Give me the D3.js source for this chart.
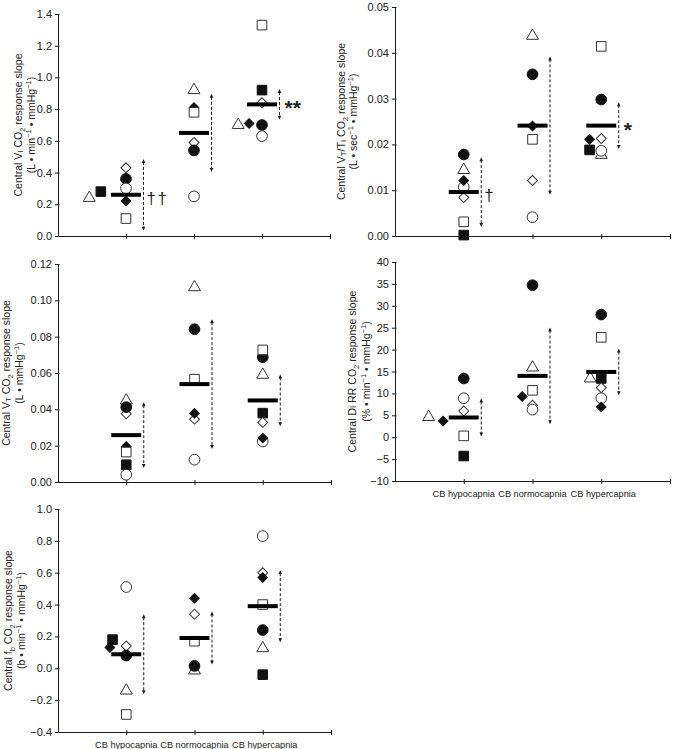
<!DOCTYPE html>
<html><head><meta charset="utf-8">
<script src="https://cdn.jsdelivr.net/npm/d3@7"></script>
<style>
body{margin:0;background:#fff;}
text{font-family:"Liberation Sans",Arial,sans-serif;fill:#222;}
</style></head>
<body>
<svg id="c" width="673" height="749"></svg>
<script>
// ---- data ----
const categories = ["CB hypocapnia", "CB normocapnia", "CB hypercapnia"];
// subject markers (order of values in every array below)
const subjects = ["triangleOpen","squareFilled","diamondOpen","circleFilled","circleOpen","diamondFilled","squareOpen"];

// Panel A: central V̇I CO2 response slope
const viHypo  = [0.24, 0.28, 0.43, 0.36, 0.30, 0.22, 0.11];
const viNormo = [0.92, null, 0.59, 0.54, 0.25, 0.81, 0.78];
const viHyper = [0.70, 0.92, 0.84, 0.70, 0.63, 0.71, 1.33];
const viMean = [0.26, 0.65, 0.83];
const viSD   = [0.22, 0.24, 0.09];
const viTicks = [0,0.2,0.4,0.6,0.8,1.0,1.2,1.4];

// Panel B: central VT/TI
const vttiHypo  = [0.0144, 0.0002, 0.0084, 0.0178, 0.0107, 0.0121, 0.0031];
const vttiNormo = [0.0437, null, 0.0121, 0.0353, 0.0041, 0.0240, 0.0211];
const vttiHyper = [0.0177, 0.0188, 0.0213, 0.0298, 0.0186, 0.0211, 0.0414];
const vttiMean = [0.0096, 0.0241, 0.0241];
const vttiSD   = [0.0074, 0.0149, 0.0049];
const vttiTicks = [0,0.01,0.02,0.03,0.04,0.05];

// Panel C: central VT
const vtHypo  = [0.0449, 0.0095, 0.0375, 0.0412, 0.0040, 0.0196, 0.0165];
const vtNormo = [0.1072, null, 0.0346, 0.0841, 0.0123, 0.0379, 0.0566];
const vtHyper = [0.0590, 0.0379, 0.0328, 0.0687, 0.0223, 0.0242, 0.0727];
const vtMean = [0.0258, 0.0539, 0.0449];
const vtSD   = [0.0176, 0.0352, 0.0137];
const vtTicks = [0,0.02,0.04,0.06,0.08,0.10,0.12];

// Panel D: central Di RR
const diHypo  = [4.6, -4.3, 6.0, 13.4, 8.9, 3.7, 0.3];
const diNormo = [15.9, null, 7.3, 34.7, 6.3, 9.3, 10.7];
const diHyper = [13.4, 13.4, 11.3, 28.0, 8.9, 6.9, 22.8];
const diMean = [4.5, 14.0, 14.9];
const diSD   = [4.1, 10.8, 5.1];
const diTicks = [-10,-5,0,5,10,15,20,25,30,35,40];

// Panel E: central fb
const fbHypo  = [-0.14, 0.18, 0.14, 0.08, 0.51, 0.13, -0.29];
const fbNormo = [-0.014, null, 0.34, 0.015, null, 0.44, 0.17];
const fbHyper = [0.126, -0.04, 0.60, 0.24, 0.83, 0.57, 0.40];
const fbMean = [0.088, 0.19, 0.39];
const fbSD   = [0.245, 0.16, 0.22];
const fbTicks = [-0.4,-0.2,0,0.2,0.4,0.6,0.8,1.0];

// horizontal jitter slots (fraction of category spacing) per subject
const z = [0,0,0,0,0,0,0];
const viJitter   = [[-0.54,-0.37,0,0,0,0,0], z, [-0.35,0,0,0,0,-0.19,0]];
const vttiJitter = [z, z, [0,-0.17,0,0,0,-0.17,0]];
const vtJitter   = [z, z, z];
const diJitter   = [[-0.51,0,0,0,0,-0.30,0], [0,0,0,0,0,-0.15,0], [-0.16,0,0,0,0,0,0]];
const fbJitter   = [[0,-0.2,0,0,0,-0.24,0], z, z];

// significance marks [hypo, normo, hyper]
const viSig = ["††", "", "**"];
const vttiSig = ["†", "", "*"];

// ---- drawing ----
const svg = d3.select("#c");
const ink = "#1a1a1a";

const panels = [
  {vals:[viHypo,viNormo,viHyper], jit:viJitter, mean:viMean, sd:viSD, ticks:viTicks, fmt:d3.format(".1f"),
   box:{l:58,r:330,t:14,b:236}, tx:[19,32], sig:viSig, xl:false,
   title:[[["Central V\u0307"],["I","s"],[" CO"],["2","sub"],[" response slope"]],
          [["(L \u2022 min"],["\u22121","sup"],[" \u2022 mmHg"],["\u22121","sup"],[")"]]]},
  {vals:[vttiHypo,vttiNormo,vttiHyper], jit:vttiJitter, mean:vttiMean, sd:vttiSD, ticks:vttiTicks, fmt:d3.format(".2f"),
   box:{l:395,r:670,t:7,b:236}, tx:[342,354], sig:vttiSig, xl:false,
   title:[[["Central V"],["T","s"],["/T"],["I","s"],[" CO"],["2","sub"],[" response slope"]],
          [["(L \u2022 sec"],["\u22121","sup"],[" \u2022 mmHg"],["\u22121","sup"],[")"]]]},
  {vals:[vtHypo,vtNormo,vtHyper], jit:vtJitter, mean:vtMean, sd:vtSD, ticks:vtTicks, fmt:d3.format(".2f"),
   box:{l:58,r:331,t:264,b:482}, tx:[7,20], sig:["","",""], xl:false,
   title:[[["Central V"],["T","s"],[" CO"],["2","sub"],[" response slope"]],
          [["(L \u2022 mmHg"],["\u22121","sup"],[")"]]]},
  {vals:[diHypo,diNormo,diHyper], jit:diJitter, mean:diMean, sd:diSD, ticks:diTicks, fmt:d3.format("d"),
   box:{l:395,r:670,t:262,b:481}, tx:[353,367], sig:["","",""], xl:true,
   title:[[["Central Di RR CO"],["2","sub"],[" response slope"]],
          [["(% \u2022 min"],["\u22121","sup"],[" \u2022 mmHg"],["\u22121","sup"],[")"]]]},
  {vals:[fbHypo,fbNormo,fbHyper], jit:fbJitter, mean:fbMean, sd:fbSD, ticks:fbTicks, fmt:d3.format(".1f"),
   box:{l:58,r:331,t:509,b:732}, tx:[9,22], sig:["","",""], xl:true,
   title:[[["Central f"],["b","sub"],[" CO"],["2","sub"],[" response slope"]],
          [["(b \u2022 min"],["\u22121","sup"],[" \u2022 mmHg"],["\u22121","sup"],[")"]]]}
];

function symPath(type){
  const s = d3.symbol();
  if(type.startsWith("triangle")) return s.type(d3.symbolTriangle).size(62)();
  if(type.startsWith("square")) return s.type(d3.symbolSquare).size(92)();
  if(type.startsWith("circle")) return s.type(d3.symbolCircle).size(90)();
  if(type.startsWith("diamond")) return s.type(d3.symbolSquare).size(type.endsWith("Filled")?46:50)();
}

function addTitle(g, segs){
  const t = g.append("text").attr("text-anchor","middle").attr("font-size",10.5).attr("fill","#111");
  let shift = 0;
  segs.forEach(([str,kind])=>{
    let target = 0, fs = 10.5;
    if(kind==="sub"){target=2.5; fs=7.5;}
    else if(kind==="sup"){target=-4; fs=7.5;}
    else if(kind==="s"){target=1; fs=8;}
    t.append("tspan").attr("dy", target-shift).attr("font-size",fs).text(str);
    shift = target;
  });
  return t;
}

panels.forEach(p=>{
  const b = p.box;
  const x = d3.scaleLinear().domain([0,4]).range([b.l,b.r]);
  const y = d3.scaleLinear().domain([p.ticks[0], p.ticks[p.ticks.length-1]]).range([b.b,b.t]);
  const g = svg.append("g");

  // y axis
  const ya = g.append("g").attr("transform",`translate(${b.l},0)`)
    .call(d3.axisLeft(y).tickValues(p.ticks).tickFormat(p.fmt).tickSize(3).tickPadding(3));
  ya.select(".domain").attr("stroke",ink).attr("d",`M0.5,${b.b}V${b.t}`);
  ya.selectAll(".tick line").attr("stroke",ink).attr("x1",1.5);
  ya.selectAll(".tick text").attr("font-size",11).attr("fill","#111")
    .attr("font-family","Liberation Sans, Arial, sans-serif");

  // x axis
  const xa = g.append("g").attr("transform",`translate(0,${b.b})`)
    .call(d3.axisBottom(x).tickValues([1,2,3,4]).tickSize(3).tickFormat(""));
  xa.select(".domain").attr("stroke",ink).attr("d",`M${b.l},0.5H${b.r}`);
  xa.selectAll(".tick line").attr("stroke",ink).attr("y1",-2);
  if(p.xl){
    categories.forEach((c,i)=>{
      g.append("text").attr("x",x(i+1)+(i===2?2:0)).attr("y",b.b+16).attr("text-anchor","middle")
        .attr("font-size",9.2).attr("fill","#111").text(c);
    });
  }

  // titles
  const cy = (b.t+b.b)/2;
  p.title.forEach((segs,k)=>{
    const tg = g.append("g").attr("transform",`translate(${p.tx[k]+3},${cy}) rotate(-90)`);
    addTitle(tg, segs);
  });

  const step = x(1)-x(0);
  // markers
  p.vals.forEach((arr,ci)=>{
    const cx = x(ci+1);
    const pts = arr.map((v,si)=>({v,si,type:subjects[si],dx:p.jit[ci][si]*step})).filter(d=>d.v!==null);
    g.selectAll(null).data(pts).enter().append("path")
      .attr("d",d=>symPath(d.type))
      .attr("transform",d=>`translate(${cx+d.dx},${y(d.v)})${d.type.startsWith("diamond")?" rotate(45)":""}`)
      .attr("fill",d=>d.type.endsWith("Filled")?"#111":"#fff")
      .attr("stroke",d=>d.type.endsWith("Filled")?"#111":"#333")
      .attr("stroke-width",1);
  });

  // mean bars and SD lines
  p.mean.forEach((m,ci)=>{
    const cx = x(ci+1);
    g.append("line").attr("x1",cx-15).attr("x2",cx+15).attr("y1",y(m)).attr("y2",y(m))
      .attr("stroke","#000").attr("stroke-width",4);
    const sx = cx+17.5;
    const y1 = y(m+p.sd[ci]), y2 = y(m-p.sd[ci]);
    g.append("line").attr("x1",sx).attr("x2",sx).attr("y1",y1+2).attr("y2",y2-2)
      .attr("stroke",ink).attr("stroke-width",1).attr("stroke-dasharray","3,2");
    g.append("path").attr("d",`M${sx},${y1-1}L${sx-1.8},${y1+3}L${sx+1.8},${y1+3}Z`).attr("fill",ink);
    g.append("path").attr("d",`M${sx},${y2+1}L${sx-1.8},${y2-3}L${sx+1.8},${y2-3}Z`).attr("fill",ink);
    const s = p.sig[ci];
    if(s){
      const star = s.includes("*");
      g.append("text").attr("x",sx+(star?5:3)).attr("y",y(m)+(star?11:9))
        .attr("font-size",star?21:17).attr("fill","#000")
        .attr("font-weight",star?"bold":"normal")
        .attr("font-family",star?"DejaVu Sans, sans-serif":"Liberation Sans, Arial, sans-serif")
        .attr("letter-spacing",star?0:1.5)
        .text(s);
    }
  });
});
</script>
</body></html>
